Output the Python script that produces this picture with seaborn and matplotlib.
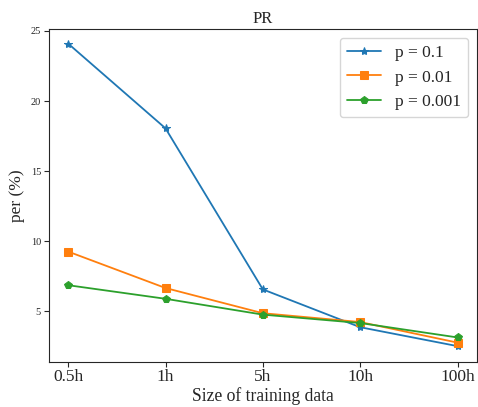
import pandas as pd
import seaborn as sns
from matplotlib import pyplot as plt

sizes = ["0.5h", "1h", "5h", "10h", "100h"]
p_01 = [24.1, 18.05, 6.55, 3.85, 2.5]
p_001 = [9.25, 6.65, 4.85, 4.22, 2.75]
p_0001 = [6.85, 5.88, 4.75, 4.15, 3.12]

labels = ["p = 0.1", "p = 0.01", "p = 0.001"]

data = pd.DataFrame(
    {
        "size": sizes * 3,
        "per": p_01 + p_001 + p_0001,
        "p": [lab for lab in labels for _ in sizes],
    }
)

sns.set_style("ticks")
plt.rcParams["font.family"] = ["Liberation Serif", "DejaVu Serif"]

fig = plt.figure(figsize=(4.78, 4.07), dpi=100)
ax = fig.add_axes([48.7 / 478, 0.111, (477 - 48.7) / 478, 0.818])

sns.lineplot(
    data=data,
    x="size",
    y="per",
    hue="p",
    style="p",
    markers=["*", "s", "p"],
    dashes=False,
    palette=["#1f77b4", "#ff7f0e", "#2ca02c"],
    markersize=6,
    linewidth=1.3,
    sort=False,
    ax=ax,
)

# same-colour marker edges, as in the original
for line in ax.lines:
    line.set_markeredgecolor(line.get_color())

ax.set_xlim(-0.2, 4.2)
ax.set_ylim(1.38, 25.15)
ax.set_yticks([5, 10, 15, 20, 25])
ax.tick_params(axis="y", labelsize=7.5, pad=2)
ax.tick_params(axis="x", labelsize=12.5, pad=2)
ax.set_xlabel("Size of training data", fontsize=12.7, labelpad=1)
ax.set_ylabel("per (%)", fontsize=12.5)
ax.set_title("PR", fontsize=12, pad=4)
leg = ax.legend(loc="upper right", fontsize=12.5, title=None)
for h in leg.legend_handles:
    h.set_markeredgecolor(h.get_color())
    h.set_markersize(6)

fig.savefig("out.png", dpi=100)
